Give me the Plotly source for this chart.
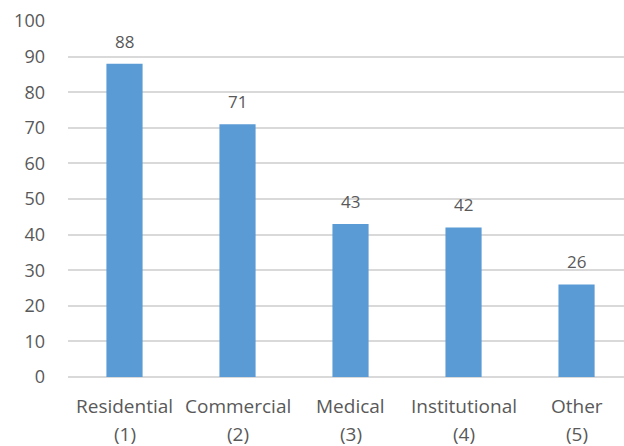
import plotly.graph_objects as go

categories = ["Residential", "Commercial", "Medical", "Institutional", "Other"]
codes = ["(1)", "(2)", "(3)", "(4)", "(5)"]
values = [88, 71, 43, 42, 26]
y_ticks = list(range(0, 101, 10))

bar_color = "#5B9BD5"
text_color = "#595959"
grid_color = "#D9D9D9"
font_family = "Open Sans, Noto Sans, sans-serif"

fig = go.Figure()
fig.add_trace(go.Bar(
    x=list(range(len(categories))),
    y=values,
    width=0.32,
    marker=dict(color=bar_color, line=dict(width=0)),
    hoverinfo="skip",
))

# value labels above each bar
for i, v in enumerate(values):
    fig.add_annotation(
        x=i, y=v, text=str(v), showarrow=False,
        yanchor="bottom", yshift=9,
        font=dict(family=font_family, size=17, color=text_color),
    )

# two-line category labels under the axis
for i, (name, code) in enumerate(zip(categories, codes)):
    fig.add_annotation(
        x=i, xref="x", y=0, yref="paper", text=name, showarrow=False,
        yanchor="middle", yshift=-29,
        font=dict(family=font_family, size=19, color=text_color),
    )
    fig.add_annotation(
        x=i, xref="x", y=0, yref="paper", text=code, showarrow=False,
        yanchor="middle", yshift=-57,
        font=dict(family=font_family, size=19, color=text_color),
    )

fig.update_layout(
    width=624, height=446,
    margin=dict(l=68, r=0, t=21, b=69),
    paper_bgcolor="white", plot_bgcolor="white",
    showlegend=False,
    font=dict(family=font_family, color=text_color),
    xaxis=dict(
        range=[-0.5, 4.42],
        showticklabels=False,
        showgrid=False, zeroline=False, showline=False,
        ticks="", ticklen=0,
    ),
    yaxis=dict(
        range=[0, 100],
        tickmode="array",
        tickvals=y_ticks,
        tickfont=dict(size=18, color=text_color),
        showgrid=True, gridcolor=grid_color, gridwidth=1.5,
        zeroline=True, zerolinecolor=grid_color, zerolinewidth=1.5,
        showline=False, ticks="", ticklabelstandoff=22,
    ),
)

fig.write_html("out.html")
